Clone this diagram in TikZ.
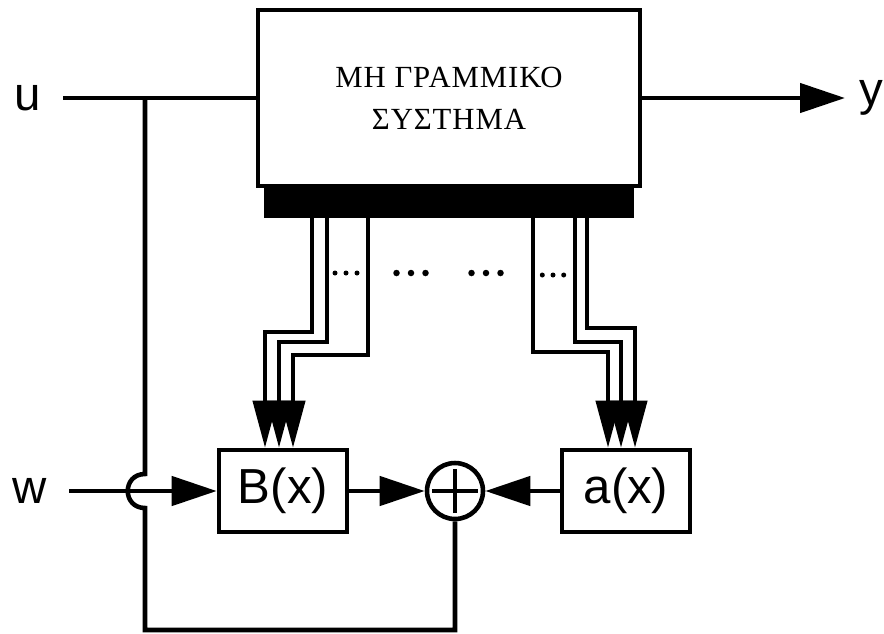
\documentclass[tikz,border=0pt]{standalone}
\usepackage{fontspec}
\setmainfont{Liberation Sans}
\newfontfamily\greekfont[LetterSpace=3]{Liberation Serif}
\usetikzlibrary{arrows.meta,calc,positioning}

\begin{document}
\begin{tikzpicture}[
  x=0.02cm, y=-0.02cm,
  line width=2.6pt,
  sig/.style={font=\fontsize{27}{30}\selectfont, inner ysep=0pt, inner xsep=0.4cm},
  block/.style={draw, minimum width=2.56cm, minimum height=1.64cm, inner sep=0pt, font=\fontsize{28}{30}\selectfont},
  plant/.style={draw, minimum width=7.64cm, minimum height=3.52cm, align=center, font=\greekfont\fontsize{17.5}{24}\selectfont},
  busbar/.style={fill=black, minimum width=7.4cm, minimum height=0.6cm, inner sep=0pt, outer sep=0pt},
  summer/.style={draw, circle, minimum size=1.12cm, inner sep=0pt,
    path picture={\draw[line width=2.6pt]
      ([xshift=-0.46cm]path picture bounding box.center) -- ([xshift=0.46cm]path picture bounding box.center)
      ([yshift=-0.44cm]path picture bounding box.center) -- ([yshift=0.44cm]path picture bounding box.center);}},
  arr/.style={-{Triangle[length=0.9cm, width=0.58cm]}},
  busarr/.style={line width=2.3pt, -{Triangle[length=0.94cm, width=0.48cm]}}
]
\useasboundingbox (0,0) rectangle (884,633);

\node[plant] (sys) at (449,98) {ΜΗ ΓΡΑΜΜΙΚΟ\\ΣΥΣΤΗΜΑ};
\node[busbar, below=0pt of sys] (bus) {};

\node[sig] (u) at (28,98) {u};
\node[sig, anchor=west, inner xsep=0.25cm] (y) at (845,98) {y};
\node[sig] (w) at (30,491) {w};

\node[block] (B) at (283,491) {B(x)};
\node[summer] (sum) at (455,491) {};
\node[block] (a) at (626,491) {a(x)};
\coordinate (tap) at (145,98);

\draw (u.east) -- (sys.west);
\draw[arr] (sys.east) -- (y.west);
\draw[arr] (w.east) -- (B.west);
\draw[arr] (B.east) -- (sum.west);
\draw[arr] (a.west) -- (sum.east);

% feedback, hopping over the w input
\draw (sum.south) |- (tap |- 0,630) -- ($(tap |- w.east)+(0,17)$)
  .. controls ($(tap |- w.east)+(-23,17)$) and ($(tap |- w.east)+(-23,-17)$) .. ($(tap |- w.east)+(0,-17)$)
  -- (tap);

% state lines from the bus
\foreach \xt/\yk/\xb in {312/332/265, 327/342/279, 368/355/293}
  \draw[busarr] (\xt,0 |- bus.south) |- (\xb,\yk) -- (\xb,0 |- B.north);
\foreach \xt/\yk/\xb in {533/352/608, 575/342/621, 587/328/635}
  \draw[busarr] (\xt,0 |- bus.south) |- (\xb,\yk) -- (\xb,0 |- a.north);

\foreach \xc/\yc/\dx/\r in {346/273/11/0.05, 411/273/14.5/0.065, 486/273/14.5/0.065, 553/275/10.7/0.05}
  \foreach \k in {-1,0,1}
    \fill ({\xc+\k*\dx},\yc) circle (\r cm);
\end{tikzpicture}
\end{document}
